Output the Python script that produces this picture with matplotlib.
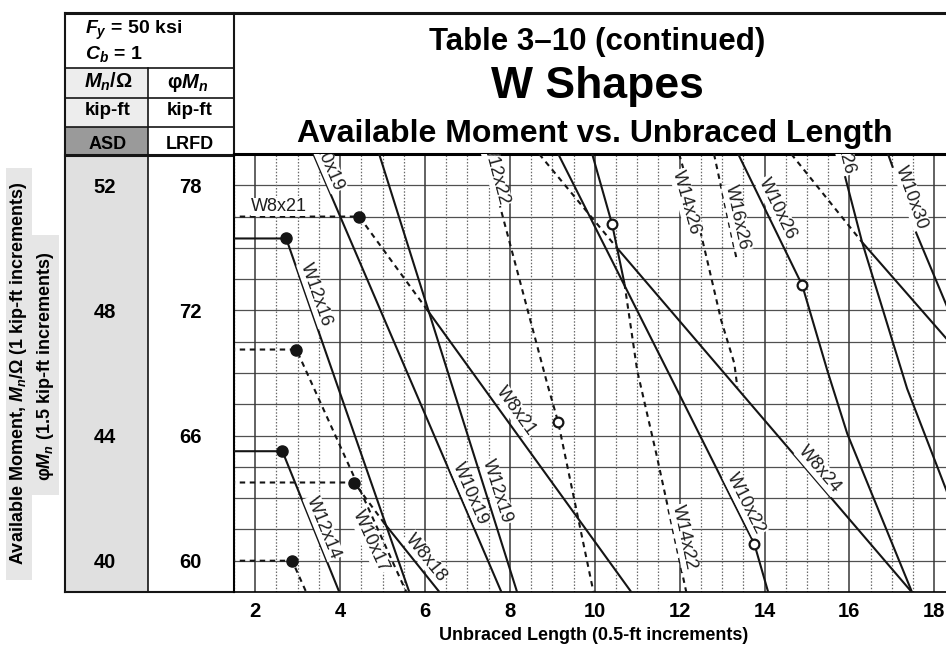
import numpy as np
import matplotlib.pyplot as plt
from matplotlib.patches import Rectangle
from matplotlib.transforms import blended_transform_factory

plt.rcParams['font.family'] = ['Liberation Sans', 'DejaVu Sans']
plt.rcParams['mathtext.fontset'] = 'custom'
plt.rcParams['mathtext.rm'] = 'Liberation Sans:bold'
plt.rcParams['mathtext.it'] = 'Liberation Sans:italic:bold'
plt.rcParams['mathtext.bf'] = 'Liberation Sans:bold'

# unbraced length Lb (ft) and available moment Mn/Omega (kip-ft)
w10x15_len = [1.4, 2.87, 3.20]
w10x15_mom = [40.0, 40.0, 39.0]
w12x14_len = [1.4, 2.64, 3.98]
w12x14_mom = [43.5, 43.5, 39.0]
w10x17_len = [1.4, 2.97, 5.56]
w10x17_mom = [46.75, 46.75, 39.0]
w12x16_len = [1.4, 2.73, 5.63]
w12x16_mom = [50.3, 50.3, 39.0]
w8x18_len = [1.4, 4.33, 5.04, 6.34]
w8x18_mom = [42.5, 42.5, 41.2, 39.0]
w8x21_len = [1.4, 4.45, 6.03, 10.86]
w8x21_mom = [51.0, 51.0, 48.06, 39.0]
w10x19_len = [3.37, 7.80]
w10x19_mom = [53.0, 39.0]
w12x19_len = [4.92, 8.17]
w12x19_mom = [53.0, 39.0]
w12x22_len = [7.44, 8.88, 9.14, 9.97]
w12x22_mom = [53.0, 45.66, 44.42, 39.0]
w10x22_len = [9.14, 11.83, 13.76, 14.09]
w10x22_mom = [53.0, 45.76, 40.54, 38.98]
w14x22_len = [9.94, 10.41, 10.70, 11.00, 11.45, 12.16]
w14x22_mom = [53.0, 50.75, 48.86, 46.08, 43.42, 38.98]
w8x24_len = [8.69, 10.51, 17.48]
w8x24_mom = [53.0, 50.02, 38.98]
w14x26_len = [11.99, 12.41, 12.65, 12.98, 13.29, 13.36]
w14x26_mom = [53.0, 50.98, 49.6, 47.68, 46.3, 45.54]
w16x26_len = [12.81, 13.34]
w16x26_mom = [53.0, 49.66]
w10x26_len = [13.38, 14.89, 15.48, 15.95, 17.48]
w10x26_mom = [53.0, 48.8, 46.08, 44.06, 38.98]
w12x26_len = [15.76, 16.30, 17.36, 18.26, 18.45]
w12x26_mom = [53.0, 50.18, 45.5, 42.34, 41.67]
w8x28_len = [14.63, 16.30, 18.26, 18.45]
w8x28_mom = [53.0, 50.18, 47.14, 46.85]
w10x30_len = [16.91, 17.58, 18.24, 18.45]
w10x30_mom = [53.0, 50.46, 48.32, 47.64]

x_ticks = [2, 4, 6, 8, 10, 12, 14, 16, 18]
asd_ticks = [52, 48, 44, 40]
lrfd_ticks = [78, 72, 66, 60]

INK = '#151515'
DASH = (0, (2.6, 2.2))

fig = plt.figure(figsize=(9.46, 6.49), dpi=100)

# overlay in pixel units for the table / header parts
ov = fig.add_axes([0, 0, 1, 1])
ov.set_xlim(0, 946)
ov.set_ylim(649, 0)
ov.axis('off')

ax = fig.add_axes([234 / 946, 57 / 649, 713 / 946, 438 / 649])
ax.set_xlim(1.5, 18.3)
ax.set_ylim(39, 53)

# grid
for m in range(39, 54):
    ax.axhline(m, color='#505050', lw=0.9, zorder=1)
for x in np.arange(1.5, 18.51, 0.5):
    if x % 2 == 0:
        ax.axvline(x, color='#383838', lw=1.1, zorder=1)
    else:
        ax.axvline(x, color='#6a6a6a', lw=0.9, ls=(0, (1.2, 1.4)), zorder=1)


def draw_curve(L, M, styles):
    # styles: one char per segment, 's' solid / 'd' dashed
    start = 0
    for i in range(1, len(styles) + 1):
        if i == len(styles) or styles[i] != styles[start]:
            ls = '-' if styles[start] == 's' else DASH
            ax.plot(L[start:i + 1], M[start:i + 1], color=INK, lw=1.5, ls=ls,
                    solid_capstyle='butt', zorder=3)
            start = i


curves = [
    (w10x15_len, w10x15_mom, 'dd', 1, None),
    (w12x14_len, w12x14_mom, 'ss', 1, None),
    (w10x17_len, w10x17_mom, 'dd', 1, None),
    (w12x16_len, w12x16_mom, 'ss', 1, None),
    (w8x18_len, w8x18_mom, 'dds', 1, None),
    (w8x21_len, w8x21_mom, 'dds', 1, None),
    (w10x19_len, w10x19_mom, 's', None, None),
    (w12x19_len, w12x19_mom, 's', None, None),
    (w12x22_len, w12x22_mom, 'ddd', None, 2),
    (w10x22_len, w10x22_mom, 'sss', None, 2),
    (w14x22_len, w14x22_mom, 'ssddd', None, 1),
    (w8x24_len, w8x24_mom, 'ds', None, None),
    (w14x26_len, w14x26_mom, 'ddddd', None, None),
    (w16x26_len, w16x26_mom, 'd', None, None),
    (w10x26_len, w10x26_mom, 'ssss', None, 1),
    (w12x26_len, w12x26_mom, 'ssss', None, None),
    (w8x28_len, w8x28_mom, 'dss', None, None),
    (w10x30_len, w10x30_mom, 'sss', None, None),
]
for L, M, st, dot, ring in curves:
    draw_curve(L, M, st)
    if dot is not None:
        ax.plot(L[dot], M[dot], 'o', ms=8, color=INK, zorder=5)
    if ring is not None:
        ax.plot(L[ring], M[ring], 'o', ms=7, mfc='white', mec=INK, mew=1.6, zorder=5)

# curve labels: text, position, and the segment they run along
labels = [
    ('W8x21', 2.57, 51.31, None, None, 0),
    ('W12x16', 3.43, 48.51, w12x16_len, w12x16_mom, 1),
    ('W10x19', 3.67, 52.82, w10x19_len, w10x19_mom, 0),
    ('W12x22', 7.66, 52.41, w12x22_len, w12x22_mom, 0),
    ('W14x26', 12.16, 51.46, w14x26_len, w14x26_mom, 0),
    ('W16x26', 13.36, 50.98, w16x26_len, w16x26_mom, 0),
    ('W10x26', 14.30, 51.26, w10x26_len, w10x26_mom, 0),
    ('W12x26', 15.82, 53.38, w12x26_len, w12x26_mom, 0),
    ('W10x30', 17.46, 51.62, w10x30_len, w10x30_mom, 0),
    ('W10x19', 7.07, 42.14, w10x19_len, w10x19_mom, 0),
    ('W12x19', 7.70, 42.21, w12x19_len, w12x19_mom, 0),
    ('W8x21', 8.14, 44.78, w8x21_len, w8x21_mom, 2),
    ('W12x14', 3.61, 41.06, w12x14_len, w12x14_mom, 1),
    ('W10x17', 4.71, 40.61, w10x17_len, w10x17_mom, 1),
    ('W8x18', 6.03, 40.1, w8x18_len, w8x18_mom, 2),
    ('W10x22', 13.55, 41.82, w10x22_len, w10x22_mom, 1),
    ('W14x22', 12.11, 40.74, w14x22_len, w14x22_mom, 4),
    ('W8x24', 15.29, 42.91, w8x24_len, w8x24_mom, 1),
]
for text, lx, lm, L, M, i in labels:
    ang = 0
    if L is not None:
        p1 = ax.transData.transform((L[i], M[i]))
        p2 = ax.transData.transform((L[i + 1], M[i + 1]))
        ang = np.degrees(np.arctan2(p2[1] - p1[1], p2[0] - p1[0]))
    ax.text(lx, lm, text, rotation=ang, rotation_mode='anchor', ha='center',
            va='center', fontsize=13, color='#1e1e1e', clip_on=True, zorder=4,
            bbox=dict(fc='white', ec='none', pad=0.5))

ax.spines['right'].set_visible(False)
ax.spines['top'].set_linewidth(2.2)
ax.spines['left'].set_linewidth(1.5)
ax.spines['bottom'].set_linewidth(1.2)
ax.set_yticks([])
ax.set_xticks(x_ticks)
ax.set_xticklabels([str(v) for v in x_ticks], fontsize=14.5, fontweight='bold')
ax.tick_params(axis='x', length=0, pad=7)

# left table
ov.add_patch(Rectangle((64, 155), 84, 437, fc='#e0e0e0', ec='none'))
ov.add_patch(Rectangle((66, 68), 82, 59, fc='#ededed', ec='none'))
ov.add_patch(Rectangle((66, 127), 82, 28, fc='#9a9a9a', ec='none'))
ov.add_patch(Rectangle((6, 168), 26, 412, fc='#e6e6e6', ec='none'))
ov.add_patch(Rectangle((32, 235), 27, 260, fc='#e6e6e6', ec='none'))

ov.plot([65, 946], [13, 13], color=INK, lw=2.2)
ov.plot([65, 65], [13, 592], color=INK, lw=1.5)
ov.plot([234, 234], [13, 155], color=INK, lw=1.5)
ov.plot([148, 148], [68, 592], color=INK, lw=1.2)
for yy in [68, 98, 127]:
    ov.plot([65, 234], [yy, yy], color=INK, lw=1.2)
ov.plot([65, 234], [155, 155], color=INK, lw=2.2)
ov.plot([65, 234], [592, 592], color=INK, lw=1.5)

ov.text(85, 34, '$F_y$ = 50 ksi', ha='left', va='baseline', fontsize=14, fontweight='bold')
ov.text(85, 59, '$C_b$ = 1', ha='left', va='baseline', fontsize=14, fontweight='bold')
ov.text(108, 88, '$M_n$/Ω', ha='center', va='baseline', fontsize=14.5, fontweight='bold')
ov.text(188, 88, 'φ$M_n$', ha='center', va='baseline', fontsize=14.5, fontweight='bold')
ov.text(108, 115, 'kip-ft', ha='center', va='baseline', fontsize=13.5, fontweight='bold')
ov.text(190, 115, 'kip-ft', ha='center', va='baseline', fontsize=13.5, fontweight='bold')
ov.text(108, 149, 'ASD', ha='center', va='baseline', fontsize=13, fontweight='bold')
ov.text(190, 149, 'LRFD', ha='center', va='baseline', fontsize=13, fontweight='bold')

tr = blended_transform_factory(ov.transData, ax.transData)
for a, l in zip(asd_ticks, lrfd_ticks):
    ov.text(105, a, str(a), transform=tr, ha='center', va='center_baseline',
            fontsize=14.5, fontweight='bold')
    ov.text(190, a, str(l), transform=tr, ha='center', va='center_baseline',
            fontsize=14.5, fontweight='bold')

ov.text(19, 373, 'Available Moment, $M_n$/Ω (1 kip-ft increments)', rotation=90,
        ha='center', va='center', fontsize=13, fontweight='bold')
ov.text(46, 366, 'φ$M_n$ (1.5 kip-ft increments)', rotation=90,
        ha='center', va='center', fontsize=13, fontweight='bold')

# titles
ov.text(597, 50, 'Table 3–10 (continued)', ha='center', va='baseline',
        fontsize=22.5, fontweight='bold')
ov.text(597, 98, 'W Shapes', ha='center', va='baseline', fontsize=32, fontweight='bold')
ov.text(595, 142, 'Available Moment vs. Unbraced Length', ha='center', va='baseline',
        fontsize=23, fontweight='bold')
ov.text(594, 636, 'Unbraced Length (0.5-ft increments)', ha='center', va='center',
        fontsize=13, fontweight='bold')

fig.savefig('out.png', dpi=100)
